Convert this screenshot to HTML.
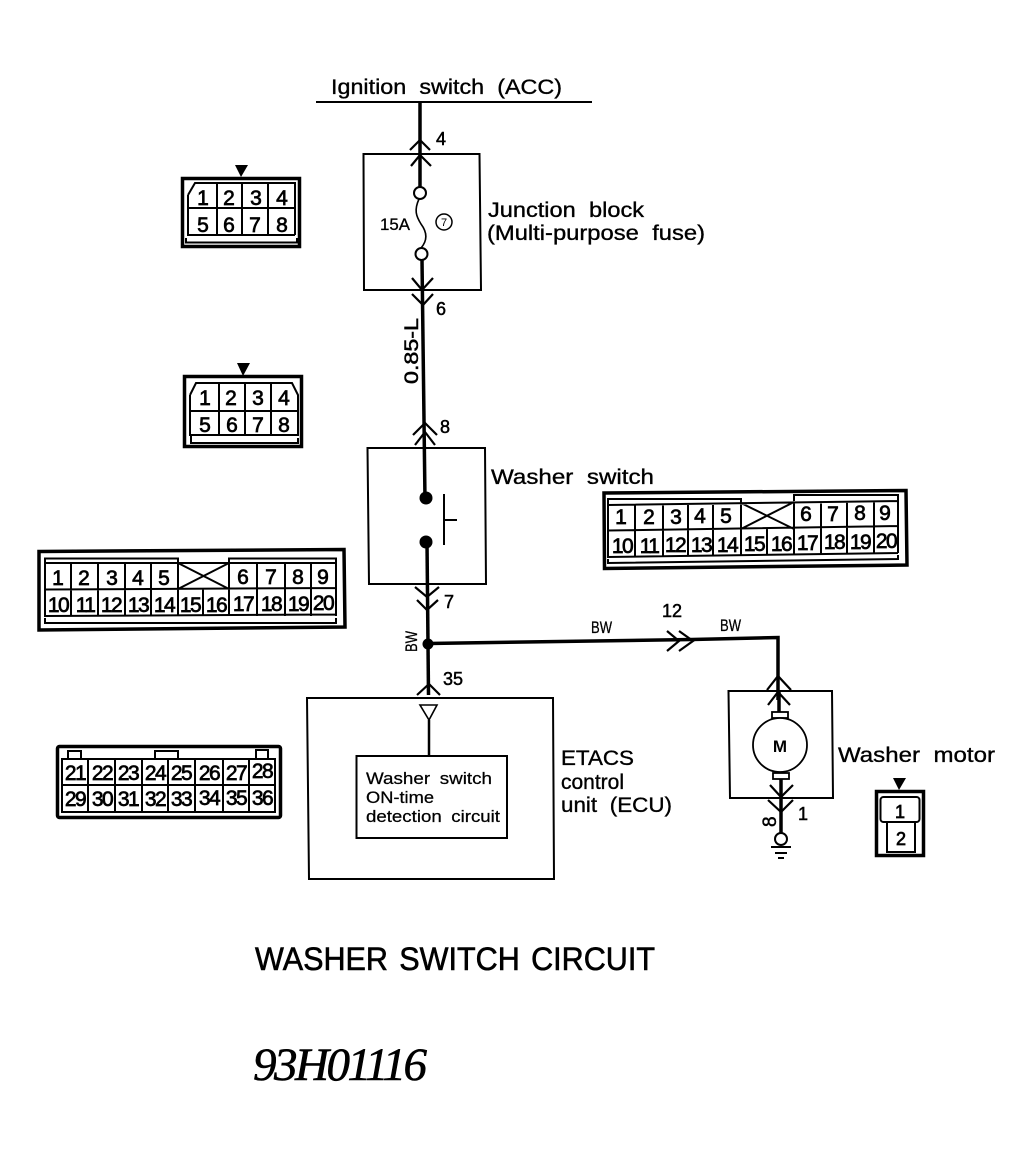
<!DOCTYPE html>
<html><head><meta charset="utf-8"><style>
html,body{margin:0;padding:0;background:#fff}
svg{display:block}
text{font-family:"Liberation Sans",sans-serif;fill:#000}
.l{font-size:21px;stroke:#000;stroke-width:.35;word-spacing:6px}
.n{font-size:18px;stroke:#000;stroke-width:.5}
.c{font-size:21px;text-anchor:middle;stroke:#000;stroke-width:.7}
.d{font-size:21px;text-anchor:middle;stroke:#000;stroke-width:.7;letter-spacing:-1.6px}
.b{font-size:17px;stroke:#000;stroke-width:.3}
.s{font-size:17px;stroke:#000;stroke-width:.25;word-spacing:4px}
.w{fill:none;stroke:#000;stroke-width:3.5}
.t{fill:none;stroke:#000;stroke-width:2}
.h{fill:none;stroke:#000;stroke-width:2.2}
.k{fill:none;stroke:#000;stroke-width:3.5}
</style></head><body>
<svg xmlns="http://www.w3.org/2000/svg" width="1031" height="1156" viewBox="0 0 1031 1156">
<rect width="1031" height="1156" fill="#fff"/>

<!-- top -->
<text class="l" x="331" y="94" textLength="231" lengthAdjust="spacingAndGlyphs">Ignition switch (ACC)</text>
<path class="t" d="M316 102H592"/>
<path class="w" d="M420 102V188"/>
<path class="h" d="M410 150L420 140L430 150M411 166L420 155L431 166"/>
<text class="n" x="436" y="145">4</text>

<!-- Junction block -->
<path class="t" d="M363.500 154H479.500L481 290H364Z"/>
<circle cx="420" cy="193" r="6" fill="#fff" stroke="#000" stroke-width="2"/>
<circle cx="421.500" cy="254" r="6" fill="#fff" stroke="#000" stroke-width="2"/>
<path class="h" d="M419 199C414 210 416 216 421 224C427 232 428 240 421 248" style="stroke-width:1.600"/>
<text class="b" x="380" y="230" textLength="30" lengthAdjust="spacingAndGlyphs">15A</text>
<circle cx="444" cy="222" r="8" fill="none" stroke="#000" stroke-width="1.500"/>
<text x="444" y="226" font-size="11" text-anchor="middle">7</text>
<text class="l" x="488" y="217" textLength="156" lengthAdjust="spacingAndGlyphs">Junction block</text>
<text class="l" x="487" y="240" textLength="218" lengthAdjust="spacingAndGlyphs">(Multi-purpose fuse)</text>
<path class="w" d="M422 260L425 500"/>
<path class="h" d="M412 278L422 290L433 278M412 294L423 305L433 294"/>
<text class="n" x="436" y="315">6</text>
<text class="n" transform="translate(418 384) rotate(-90)" textLength="66" lengthAdjust="spacingAndGlyphs" style="font-size:19px">0.85-L</text>
<path class="h" d="M413 435L425 423L437 435M415 445L425 432L435 445"/>
<text class="n" x="440" y="433">8</text>

<!-- Washer switch -->
<path class="t" d="M367.500 448H485L486 584H369Z"/>
<circle cx="426" cy="498" r="6.500"/>
<circle cx="426" cy="542" r="6.500"/>
<path class="t" d="M444 494V545M444 520H457"/>
<text class="l" x="491" y="484" textLength="163" lengthAdjust="spacingAndGlyphs">Washer switch</text>
<path class="w" d="M427 542L428.500 695"/>
<path class="h" d="M415 587L427 597L439 587M417 600L427 610L438 600"/>
<text class="n" x="444" y="608">7</text>

<!-- BW wire -->
<circle cx="428" cy="644" r="5.500"/>
<path class="w" d="M428 643.500L692 639.500L778 637.500V700"/>
<path class="h" d="M667 631L679 641L667 651M679 631L693 641L679 651"/>
<text class="n" x="662" y="617">12</text>
<text class="b" x="591" y="633" textLength="21" lengthAdjust="spacingAndGlyphs">BW</text>
<text class="b" x="720" y="631" textLength="21" lengthAdjust="spacingAndGlyphs">BW</text>
<text class="b" transform="translate(417 652) rotate(-90)" textLength="21" lengthAdjust="spacingAndGlyphs">BW</text>
<path class="h" d="M417 695L429 684L440 695"/>
<text class="n" x="443" y="685">35</text>

<!-- ETACS -->
<path class="t" d="M307 698H553L554 879H309Z"/>
<path class="h" d="M420 705H437L429 720Z" style="stroke-width:1.600"/>
<path class="w" d="M429 720V756" style="stroke-width:2.500"/>
<rect x="356.500" y="756" width="150.500" height="82" fill="#fff" stroke="#000" stroke-width="2"/>
<text class="s" x="366" y="784" textLength="126" lengthAdjust="spacingAndGlyphs">Washer switch</text>
<text class="s" x="366" y="803" textLength="68" lengthAdjust="spacingAndGlyphs">ON-time</text>
<text class="s" x="366" y="822" textLength="134" lengthAdjust="spacingAndGlyphs">detection circuit</text>
<text class="l" x="561" y="765" textLength="73" lengthAdjust="spacingAndGlyphs">ETACS</text>
<text class="l" x="561" y="789" textLength="63" lengthAdjust="spacingAndGlyphs">control</text>
<text class="l" x="561" y="812" textLength="111" lengthAdjust="spacingAndGlyphs">unit (ECU)</text>

<!-- Motor -->
<path class="h" d="M767 690L778 676L791 690M768 705L778 692L790 705"/>
<path class="t" d="M728.500 691H832L833 798H730Z"/>
<path class="w" d="M779 691V712M781 779V833"/>
<rect x="772" y="712" width="16" height="6" fill="#fff" stroke="#000" stroke-width="1.800"/>
<rect x="773" y="773" width="16" height="6" fill="#fff" stroke="#000" stroke-width="1.800"/>
<circle cx="780" cy="745" r="27" fill="#fff" stroke="#000" stroke-width="1.800"/>
<text x="780" y="752" font-size="17" font-weight="bold" text-anchor="middle">M</text>
<path class="h" d="M770 785L781 797L793 785M768 800L781 812L793 800"/>
<text class="n" x="798" y="820">1</text>
<text class="n" transform="translate(776 827) rotate(-90)" style="font-size:19px">8</text>
<circle cx="781" cy="839" r="6" fill="#fff" stroke="#000" stroke-width="2"/>
<path class="t" d="M771 847H791M775 853H787M778 858H784"/>
<text class="l" x="838" y="762" textLength="157" lengthAdjust="spacingAndGlyphs">Washer motor</text>

<!-- Connector 1 -->
<path d="M235 165H248L241 177Z"/>
<rect x="182.500" y="178.500" width="117" height="68" class="k"/>
<path class="t" d="M188 195L195 183H295V192L295 235M188 195V235H295M188 208H295M217 183V235M242 183V235M268 183V235M186 238V242.500H297V238"/>
<text class="c" x="203" y="205">1</text><text class="c" x="229" y="205">2</text><text class="c" x="256" y="205">3</text><text class="c" x="282" y="205">4</text>
<text class="c" x="203" y="232">5</text><text class="c" x="229" y="232">6</text><text class="c" x="255" y="232">7</text><text class="c" x="282" y="232">8</text>

<!-- Connector 2 -->
<path d="M237 363H250L243 376Z"/>
<rect x="184.500" y="376.500" width="117" height="70" class="k"/>
<path class="t" d="M190 395L196 383H292L298 395V435H190V395M190 411H298M219 383V435M245 383V435M271 383V435M191 435V443H298V438"/>
<text class="c" x="205" y="405">1</text><text class="c" x="231" y="405">2</text><text class="c" x="258" y="405">3</text><text class="c" x="284" y="405">4</text>
<text class="c" x="205" y="432">5</text><text class="c" x="232" y="432">6</text><text class="c" x="258" y="432">7</text><text class="c" x="284" y="432">8</text>

<!-- Connector 3 (left 20 pin) -->
<path class="k" d="M39 551.500L344 549.500L345 627L39 630Z"/>
<path class="t" d="M45 563V558.500H178V563M229 563V558.500H336V616M45 563H336M45 563V616L336 614.500M45 589.500L336 588M71 563V616M98 563V616M125 563V616M151 563V616M178 563V616M203 589V616M229 563V616M257 563V616M285 563V616M311 563V616M178 563L229 589M178 589L229 563M45 618V623H336V618"/>
<text class="c" x="58" y="585">1</text><text class="c" x="84" y="585">2</text><text class="c" x="112" y="585">3</text><text class="c" x="138" y="585">4</text><text class="c" x="164" y="585">5</text>
<text class="c" x="243" y="584">6</text><text class="c" x="271" y="584">7</text><text class="c" x="298" y="584">8</text><text class="c" x="323" y="584">9</text>
<text class="d" x="58" y="612">10</text><text class="d" x="85" y="612">11</text><text class="d" x="111" y="612">12</text><text class="d" x="138" y="612">13</text><text class="d" x="164" y="612">14</text><text class="d" x="190" y="612">15</text><text class="d" x="216" y="612">16</text><text class="d" x="243" y="611">17</text><text class="d" x="271" y="611">18</text><text class="d" x="298" y="611">19</text><text class="d" x="323" y="610">20</text>

<!-- Connector 4 (right 20 pin) -->
<path class="k" d="M604 493L906 490.500L907 565L604.500 568.500Z"/>
<path class="t" d="M608 505V499H741V503M794 501V495H898V553M608 505L898 501M608 505V557L898 553M608 530.500L898 526M635 504V556M663 504V556M688 503V556M713 503V555M741 503V555M767 529V555M794 502V555M821 502V554M847 501V554M874 501V553M741 503L794 529M741 529L794 502M608 559V563L898 559V555"/>
<text class="c" x="621" y="524">1</text><text class="c" x="649" y="524">2</text><text class="c" x="676" y="524">3</text><text class="c" x="700" y="523">4</text><text class="c" x="726" y="523">5</text>
<text class="c" x="806" y="521">6</text><text class="c" x="833" y="521">7</text><text class="c" x="860" y="520">8</text><text class="c" x="885" y="520">9</text>
<text class="d" x="622" y="553">10</text><text class="d" x="649" y="553">11</text><text class="d" x="675" y="552">12</text><text class="d" x="701" y="552">13</text><text class="d" x="727" y="552">14</text><text class="d" x="754" y="551">15</text><text class="d" x="781" y="551">16</text><text class="d" x="807" y="550">17</text><text class="d" x="834" y="549">18</text><text class="d" x="860" y="549">19</text><text class="d" x="886" y="548">20</text>

<!-- Connector 5 (36 pin) -->
<rect x="57.500" y="746.500" width="223" height="71" rx="2" class="k"/>
<path class="t" d="M62 759H275V812H62ZM62 785H275M88 759V812M115 759V812M142 759V812M168 759V812M195 759V812M223 759V812M249 759V812M68 758V751H81V758M155 758V751H178V758M256 758V750H268V758"/>
<text class="d" x="75" y="780">21</text><text class="d" x="102" y="780">22</text><text class="d" x="128" y="780">23</text><text class="d" x="155" y="780">24</text><text class="d" x="181" y="780">25</text><text class="d" x="209" y="780">26</text><text class="d" x="236" y="780">27</text><text class="d" x="262" y="778">28</text>
<text class="d" x="75" y="806">29</text><text class="d" x="102" y="806">30</text><text class="d" x="128" y="806">31</text><text class="d" x="155" y="806">32</text><text class="d" x="181" y="806">33</text><text class="d" x="209" y="805">34</text><text class="d" x="236" y="805">35</text><text class="d" x="262" y="805">36</text>

<!-- Connector 6 (2 pin) -->
<path d="M893 778H906L899 790Z"/>
<rect x="876.500" y="791.500" width="47" height="64" class="k"/>
<rect x="880.500" y="797" width="39" height="25" rx="3" class="t"/>
<path class="t" d="M887 822V852H915V822"/>
<text class="c" x="900" y="818" style="font-size:18px">1</text>
<text class="c" x="901" y="845" style="font-size:18px">2</text>

<!-- Titles -->
<text x="255" y="970" font-size="32" textLength="400" lengthAdjust="spacingAndGlyphs" style="stroke:#000;stroke-width:.6;word-spacing:3px">WASHER SWITCH CIRCUIT</text>
<text x="253" y="1080" font-size="47" textLength="174" font-style="italic" style="font-family:'Liberation Serif',serif;stroke:#000;stroke-width:.6">93H01116</text>
</svg>
</body></html>
